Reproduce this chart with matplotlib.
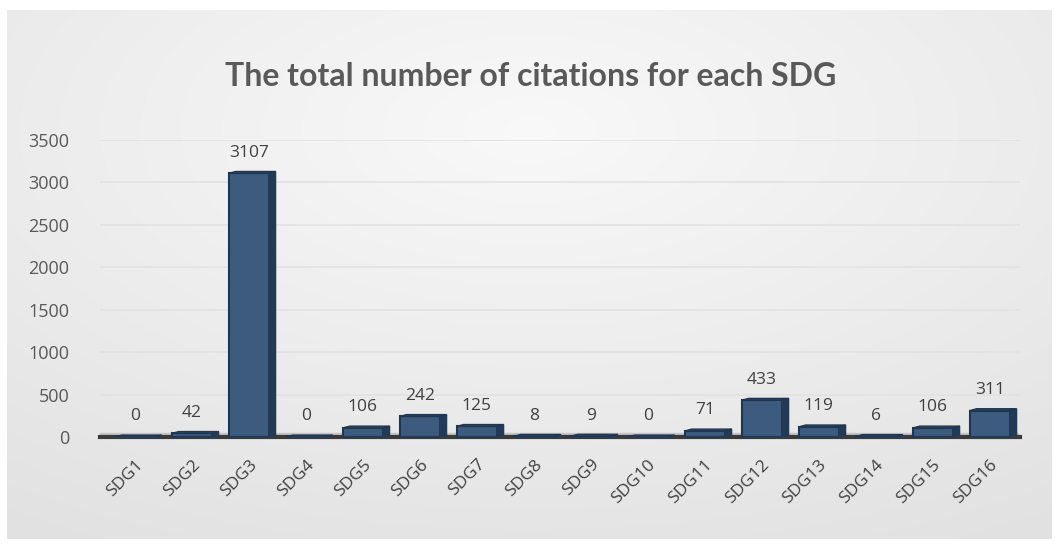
import matplotlib
matplotlib.use('Agg')

import numpy as np
import matplotlib.pyplot as plt

# data
categories = ['SDG1', 'SDG2', 'SDG3', 'SDG4', 'SDG5', 'SDG6', 'SDG7', 'SDG8',
              'SDG9', 'SDG10', 'SDG11', 'SDG12', 'SDG13', 'SDG14', 'SDG15', 'SDG16']
citations = [0, 42, 3107, 0, 106, 242, 125, 8, 9, 0, 71, 433, 119, 6, 106, 311]
yticks = [0, 500, 1000, 1500, 2000, 2500, 3000, 3500]
title = 'The total number of citations for each SDG'

W, H = 1061, 549
DPI = 100
fig = plt.figure(figsize=(W / DPI, H / DPI), dpi=DPI)
fig.patch.set_facecolor('white')

# radial grey background panel
bg = fig.add_axes([7 / W, 10 / H, 1045 / W, 529 / H], zorder=-1)
bg.axis('off')
gx, gy = np.meshgrid(np.linspace(-1, 1, 400), np.linspace(-1, 1, 200))
r = np.clip(np.sqrt((gx * 0.9) ** 2 + ((gy + 0.55) * 0.9) ** 2), 0, 1.6)
shade = 0.975 - 0.09 * (r / 1.6)
bg.imshow(np.dstack([shade, shade, shade]), aspect='auto', extent=[0, 1, 0, 1])

ax = fig.add_axes([100 / W, 112 / H, 920 / W, 297 / H])
ax.patch.set_alpha(0)
x = np.arange(len(categories))
ax.set_xlim(-0.61, len(categories) - 0.47)
ax.set_ylim(0, 3500)

for s in ax.spines.values():
    s.set_visible(False)

ax.set_yticks(yticks)
ax.set_yticklabels([str(t) for t in yticks], fontsize=13, color='#595959', family='Open Sans')
ax.tick_params(axis='y', length=0, pad=22)
ax.set_xticks(x)
ax.set_xticklabels(categories, rotation=45, ha='right', rotation_mode='anchor',
                   fontsize=12.5, color='#404040', family='Open Sans')
ax.tick_params(axis='x', length=0, pad=14)
for t in yticks[1:]:
    ax.axhline(t, color='#e2e2e2', lw=1.2, zorder=0)

# floor
ax.fill_between([-0.61, len(categories) - 0.5], 0, 50, color='#c4c4c4', zorder=1, clip_on=False)
ax.axhline(0, color='#3a3a3a', lw=3, zorder=2, clip_on=False)

width = 0.7
dx, dy = 0.12, 55
front = '#3d5b7f'
edge = '#1d3654'
for xi, v in zip(x, citations):
    l, rr = xi - width / 2, xi + width / 2
    ax.bar(xi, v, width=width, color=front, edgecolor=edge, lw=1.5, zorder=3)
    # side face
    ax.fill([rr, rr + dx, rr + dx, rr], [0, dy * 0.4, v + dy * 0.4, v],
            color='#233a56', zorder=3)
    # top face
    ax.fill([l, l + dx, rr + dx, rr], [v, v + dy * 0.4, v + dy * 0.4, v],
            color='#2b4a6e', edgecolor=edge, lw=1, zorder=4)
    ax.text(xi, v + 150, str(v), ha='center', va='bottom', fontsize=12.5,
            color='#404040', family='Open Sans', zorder=5)

fig.text(0.5, 1 - 77 / H, title, ha='center', va='center', fontsize=23,
         fontweight='bold', color='#595959', family='Lato')

plt.savefig('out.png', dpi=DPI)
